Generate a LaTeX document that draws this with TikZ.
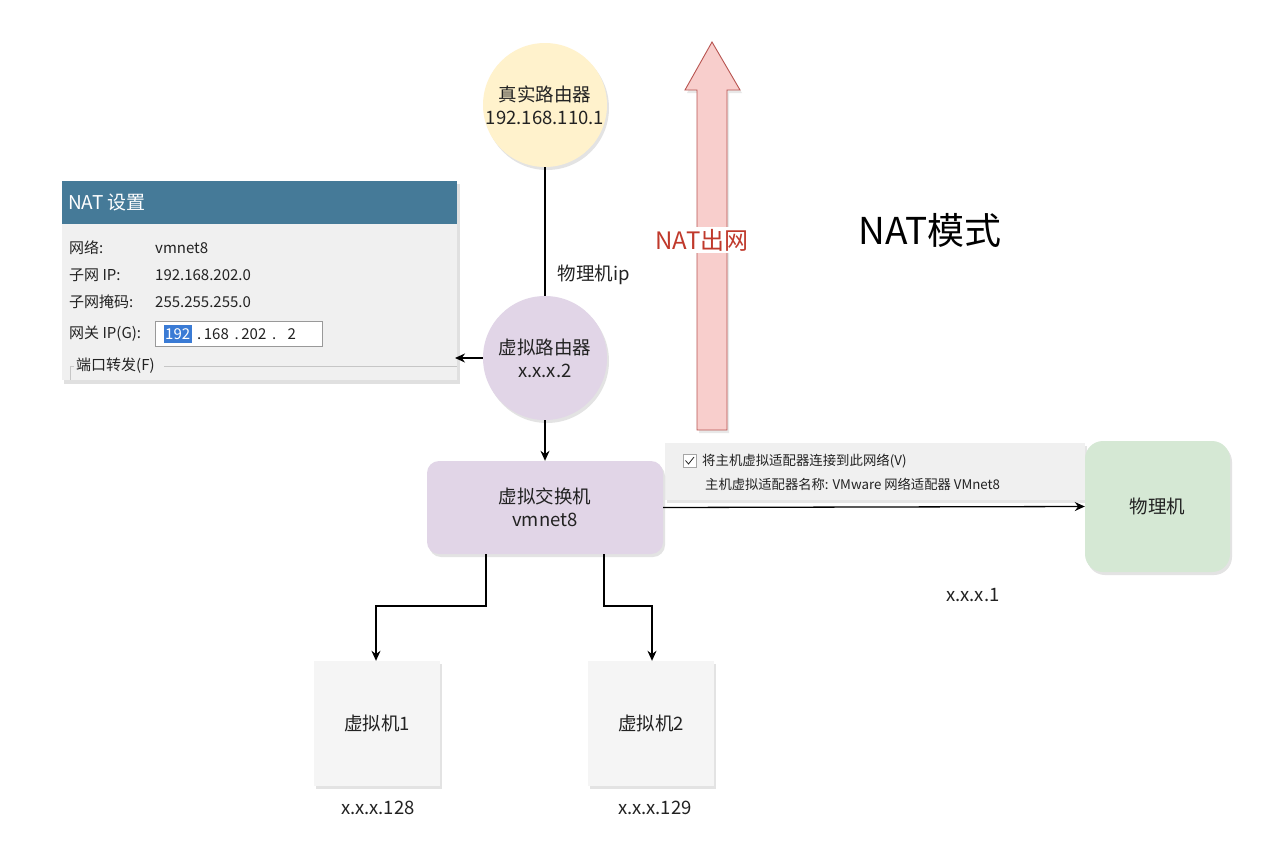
\documentclass[tikz,border=0pt]{standalone}
\usepackage{fontspec}
\setmainfont{Noto Sans CJK SC}
\usetikzlibrary{shadows,shapes.arrows,arrows.meta}
\definecolor{cyellow}{HTML}{FFF2CC}
\definecolor{cpurple}{HTML}{E1D5E7}
\definecolor{cgreen}{HTML}{D5E8D4}
\definecolor{cgray}{HTML}{F5F5F5}
\definecolor{cpanel}{HTML}{F0F0F0}
\definecolor{chead}{HTML}{457A98}
\definecolor{cred}{HTML}{F8CECC}
\definecolor{credline}{HTML}{B85450}
\definecolor{credtext}{HTML}{C0392B}
\definecolor{csel}{HTML}{3A7BD5}
\definecolor{ctext}{HTML}{222222}
\tikzset{
  shadowed/.style={drop shadow={opacity=0.22,shadow xshift=2pt,shadow yshift=-3pt}},
  circnode/.style={circle,minimum size=124pt,inner sep=0pt,align=center,font=\fontsize{18.5}{23}\selectfont,text=ctext,shadowed},
  boxnode/.style={rectangle,align=center,font=\fontsize{18.5}{23}\selectfont,text=ctext,shadowed},
  lbl/.style={font=\fontsize{18.5}{22}\selectfont,text=ctext},
  ptxt/.style={font=\fontsize{15}{18}\selectfont,text=ctext,anchor=west,inner sep=0pt},
  conn/.style={line width=1.3pt,-{Stealth[length=10pt,width=9pt]}},
}
\begin{document}
\begin{tikzpicture}[x=1pt,y=-1pt]
\useasboundingbox[fill=white] (0,0) rectangle (1275,846);

% NAT panel
\fill[black,opacity=0.12] (64,184) rectangle (460,384);
\fill[cpanel] (62,181) rectangle (457,380);
\fill[chead] (62,181) rectangle (457,224);
\node[anchor=west,text=white,font=\fontsize{19}{22}\selectfont,inner sep=0pt] (nathead) at (68,202) {NAT 设置};
\node[ptxt] (r1a) at (69,248) {网络:};
\node[ptxt] (r1b) at (155,248) {vmnet8};
\node[ptxt] (r2a) at (69,275) {子网 IP:};
\node[ptxt] (r2b) at (155,275) {192.168.202.0};
\node[ptxt] (r3a) at (69,302) {子网掩码:};
\node[ptxt] (r3b) at (155,302) {255.255.255.0};
\node[ptxt] (r4a) at (69,334) {网关 IP(G):};
\draw[fill=white,draw=gray!80] (155,321) rectangle (322,346);
\fill[csel] (164,325) rectangle (192,343);
\node[ptxt,text=white] (ip1) at (165,334) {192};
\node[ptxt] (ip2) at (197,334) {.\,168\, .\,202\, . \ \ 2};
\draw[gray!45] (70,380) -- (70,366) -- (74,366);
\draw[gray!45] (164,366) -- (457,366);
\node[ptxt] (portf) at (76,366) {端口转发(F)};

% checkbox panel
\fill[black,opacity=0.10] (667,446) rectangle (1087,503);
\fill[cpanel] (665,443) rectangle (1085,500);
\draw[gray!70,fill=white] (683,454) rectangle (696,467);
\draw[ctext,line width=0.8pt] (685.5,460.5) -- (688.5,464) -- (694,457);
\node[ptxt,font=\fontsize{13.4}{16}\selectfont] (cb1) at (702,461) {将主机虚拟适配器连接到此网络(V)};
\node[ptxt,font=\fontsize{13.3}{16}\selectfont] (cb2) at (705,484) {主机虚拟适配器名称: VMware 网络适配器 VMnet8};

% big arrow
\draw[credline,fill=cred,line width=0.9pt,line join=miter,drop shadow={opacity=0.18,shadow xshift=2pt,shadow yshift=-3pt}]
  (697,430) -- (697,90) -- (685,90) -- (712,42) -- (740,90) -- (727,90) -- (727,430) -- cycle;
\node[fill=white,text=credtext,font=\fontsize{24}{28}\selectfont,inner sep=2pt] (natout) at (702,240) {NAT出网};

% nodes
\node[circnode,fill=cyellow] (real) at (545,105) {真实路由器\\192.168.110.1};
\node[circnode,fill=cpurple] (vr) at (545,358) {虚拟路由器\\x.x.x.2};
\node[boxnode,fill=cpurple,rounded corners=12pt,minimum width=236pt,minimum height=93pt] (sw) at (545,507.5) {虚拟交换机\\vmnet8};
\node[boxnode,fill=cgreen,rounded corners=18pt,minimum width=145pt,minimum height=131pt] (pm) at (1157.5,506.5) {物理机};
\node[boxnode,fill=cgray,minimum width=126pt,minimum height=125pt] (vm1) at (377,723.5) {虚拟机1};
\node[boxnode,fill=cgray,minimum width=126pt,minimum height=125pt] (vm2) at (651,723.5) {虚拟机2};

% labels
\node[lbl] (lblip) at (594,275) {物理机ip};
\node[lbl] (lbl1) at (973,595) {x.x.x.1};
\node[lbl] (lbl128) at (378,808) {x.x.x.128};
\node[lbl] (lbl129) at (655,808) {x.x.x.129};
\node[font=\fontsize{37}{42}\selectfont,text=black] (title) at (930,230) {NAT模式};

% connectors
\coordinate (natedge) at (455,358);
\draw[line width=1.3pt] (real.south) -- (vr.north);
\draw[conn] (vr.west) -- (natedge);
\draw[conn] (vr.south) -- (sw.north);
\draw[conn] (sw.east) -- (pm.west);
\draw[conn] (486,554) -- (486,606) -- (376,606) -- (vm1.north -| 376,0);
\draw[conn] (604,554) -- (604,606) -- (652,606) -- (vm2.north -| 652,0);
\end{tikzpicture}
\end{document}
